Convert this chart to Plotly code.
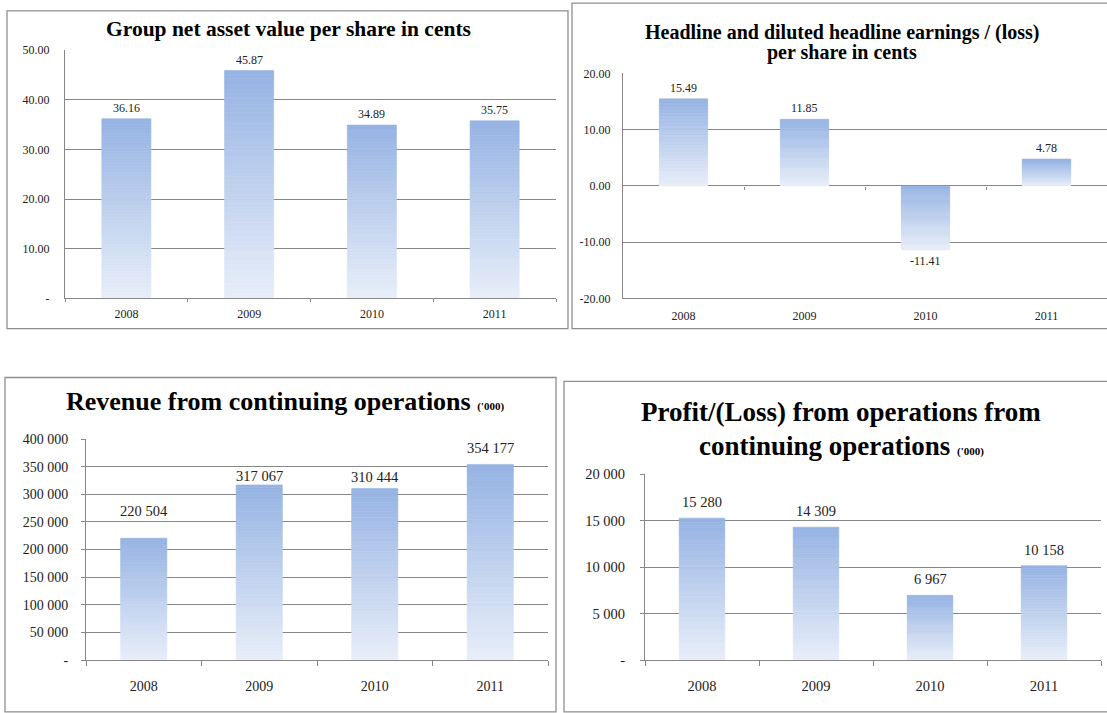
import plotly.graph_objects as go

# ---------------- data ----------------
years = ["2008", "2009", "2010", "2011"]
nav_per_share = [36.16, 45.87, 34.89, 35.75]
heps = [15.49, 11.85, -11.41, 4.78]
revenue = [220504, 317067, 310444, 354177]
profit = [15280, 14309, 6967, 10158]

nav_ticks = [0, 10, 20, 30, 40, 50]
nav_ticktext = ["-", "10.00", "20.00", "30.00", "40.00", "50.00"]
heps_ticks = [-20, -10, 0, 10, 20]
heps_ticktext = ["-20.00", "-10.00", "0.00", "10.00", "20.00"]
rev_ticks = [0, 50000, 100000, 150000, 200000, 250000, 300000, 350000, 400000]
rev_ticktext = ["-", "50 000", "100 000", "150 000", "200 000", "250 000", "300 000", "350 000", "400 000"]
prof_ticks = [0, 5000, 10000, 15000, 20000]
prof_ticktext = ["-", "5 000", "10 000", "15 000", "20 000"]

title_lines = [
    ["Group net asset value per share in cents"],
    ["Headline and diluted headline earnings / (loss)", "per share in cents"],
    ["Revenue from continuing operations <span style='font-size:11px'>('000)</span>"],
    ["Profit/(Loss) from operations from",
     "continuing operations <span style='font-size:11px'>('000)</span>"],
]

# ---------------- styling ----------------
W, H = 1107, 713
FONT = "Liberation Serif, Times New Roman, serif"
GRID = "#878787"
TOP = (0x95, 0xB3, 0xE3)
BOT = (0xE8, 0xEE, 0xF9)
NSLICE = 60


def px_x(p):
    return p / W


def px_y(p):
    return 1 - p / H


def lerp(t):
    c = [round(TOP[i] + (BOT[i] - TOP[i]) * t) for i in range(3)]
    return "rgb(%d,%d,%d)" % tuple(c)


fig = go.Figure()


def add_bars(values, xa, ya):
    # vertical gradient fill: each bar is drawn as thin stacked slices
    for k in range(NSLICE):
        colors = []
        for v in values:
            f = (k + 0.5) / NSLICE
            t = (1 - f) if v >= 0 else f
            colors.append(lerp(t))
        fig.add_trace(go.Bar(
            x=years,
            y=[v / NSLICE for v in values],
            base=[v * k / NSLICE for v in values],
            width=0.4,
            marker=dict(color=colors, line=dict(color=colors, width=0.6)),
            xaxis=xa, yaxis=ya, showlegend=False, hoverinfo="skip",
        ))


add_bars(nav_per_share, "x", "y")
add_bars(heps, "x2", "y2")
add_bars(revenue, "x3", "y3")
add_bars(profit, "x4", "y4")


def xaxis(dom, anchor, fsize, ticklen, standoff):
    return dict(
        type="category", domain=dom, anchor=anchor, range=[-0.5, 3.5],
        showline=True, linecolor=GRID, linewidth=1,
        ticks="outside", tickson="boundaries", ticklen=ticklen, tickcolor=GRID,
        showgrid=False, zeroline=False, ticklabelstandoff=standoff,
        tickfont=dict(family=FONT, size=fsize, color="#222"),
    )


def yaxis(dom, anchor, rng, tv, tt, fsize, ticklen, standoff):
    return dict(
        domain=dom, anchor=anchor, range=rng, tickvals=tv, ticktext=tt,
        showline=True, linecolor=GRID, linewidth=1,
        showgrid=True, gridcolor=GRID, gridwidth=1, zeroline=False,
        ticks="outside" if ticklen else "", ticklen=ticklen, tickcolor=GRID,
        ticklabelstandoff=standoff,
        tickfont=dict(family=FONT, size=fsize, color="#222"),
    )


# panel domains (pixels -> paper)
p1x = [px_x(65), px_x(556)]
p1y = [px_y(297), px_y(43)]
p2x = [px_x(623), px_x(1107)]
p2y = [px_y(297), px_y(67)]
p3x = [px_x(86), px_x(548)]
p3y = [px_y(667), px_y(441)]
p4x = [px_x(645), px_x(1101)]
p4y = [px_y(667), px_y(477)]

heps_rng = [-20, 20]
zero_pos = p2y[0] + (0 - heps_rng[0]) / (heps_rng[1] - heps_rng[0]) * (p2y[1] - p2y[0])

# invisible trace to carry the zero-level tick axis of panel 2
fig.add_trace(go.Scatter(x=[0], y=[0], xaxis="x5", yaxis="y2", mode="markers",
                         marker=dict(opacity=0), showlegend=False, hoverinfo="skip"))

fig.update_layout(
    width=W, height=H, margin=dict(l=0, r=0, t=0, b=0),
    paper_bgcolor="white", plot_bgcolor="white",
    barmode="overlay", showlegend=False,
    xaxis=xaxis(p1x, "y", 12, 3, 4),
    yaxis=yaxis(p1y, "x", [0, 50], nav_ticks, nav_ticktext, 12, 0, 12),
    xaxis2=dict(xaxis(p2x, "y2", 12, 0, 6), ticks=""),
    yaxis2=yaxis(p2y, "x2", heps_rng, heps_ticks, heps_ticktext, 12, 0, 9),
    xaxis3=xaxis(p3x, "y3", 14, 5, 13),
    yaxis3=yaxis(p3y, "x3", [0, 400000], rev_ticks, rev_ticktext, 14, 4, 10),
    xaxis4=xaxis(p4x, "y4", 14.5, 5, 13),
    yaxis4=yaxis(p4y, "x4", [0, 20000], prof_ticks, prof_ticktext, 14.5, 4, 12),
    xaxis5=dict(
        overlaying="x2", anchor="free", position=zero_pos, domain=p2x,
        range=[-0.5, 3.5], tickvals=[0.5, 1.5, 2.5, 3.5], ticks="outside",
        ticklen=3, tickcolor=GRID, showticklabels=False, showline=False,
        showgrid=False, zeroline=False, side="bottom",
    ),
)

# panel borders
borders = [(7, 3, 568, 328), (572, -5, 1115, 328), (5, 378, 556, 720), (564, 382, 1115, 720)]
for x0, y0, x1, y1 in borders:
    fig.add_shape(type="rect", xref="paper", yref="paper",
                  x0=px_x(x0), x1=px_x(x1), y0=px_y(y1), y1=px_y(y0),
                  line=dict(color="#8f8f8f", width=1.3), fillcolor="rgba(0,0,0,0)")

# titles (one annotation per line)
title_specs = [
    (title_lines[0], 288, [21], 21.5),
    (title_lines[1], 842, [25, 46], 20),
    (title_lines[2], 285, [403], 26),
    (title_lines[3], 841, [413, 448], 27),
]
for lines, cx, ys, fs in title_specs:
    for txt, cy in zip(lines, ys):
        fig.add_annotation(text="<b>" + txt + "</b>", xref="paper", yref="paper",
                           x=px_x(cx), y=px_y(cy), xanchor="center", yanchor="middle",
                           showarrow=False, font=dict(family=FONT, size=fs, color="#000"))


# data labels
def add_labels(values, xa, ya, fmt, fsize, shifts):
    for i, (v, s) in enumerate(zip(values, shifts)):
        fig.add_annotation(
            text=fmt(v), x=i, y=v, xref=xa, yref=ya, showarrow=False,
            yanchor="bottom" if v >= 0 else "top",
            yshift=s if v >= 0 else -s,
            font=dict(family=FONT, size=fsize, color="#222"),
        )


def fmt2(v):
    return "%.2f" % v


def fmtk(v):
    return "{:,}".format(v).replace(",", " ")


add_labels(nav_per_share, "x", "y", fmt2, 12, [2, 2, 2, 2])
add_labels(heps, "x2", "y2", fmt2, 12, [2, 2, 2, 2])
add_labels(revenue, "x3", "y3", fmtk, 14.5, [17, -1, 2, 6])
add_labels(profit, "x4", "y4", fmtk, 14.5, [6, 6, 6, 6])

fig.write_html("out.html")
